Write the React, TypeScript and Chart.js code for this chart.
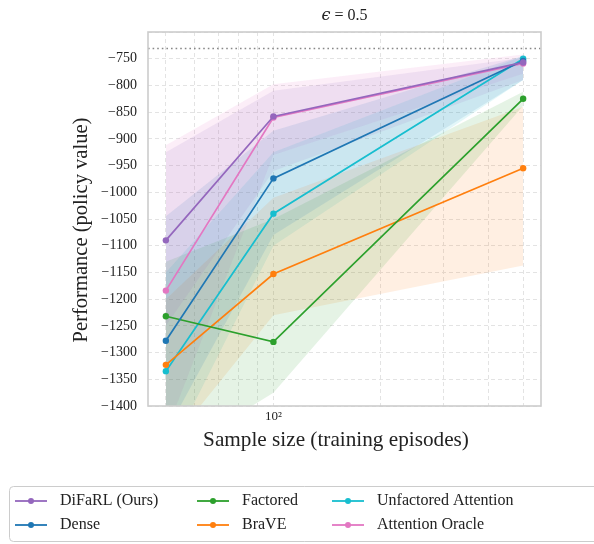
import React, { useEffect, useRef } from "react";
import { Chart, registerables } from "chart.js";

Chart.register(...registerables);

const sampleSizes = [50, 100, 500];
const xTickValues = [50, 60, 70, 80, 90, 100, 200, 300, 400, 500];
const yTickMin = -1400;
const yTickMax = -700;
const referenceValue = -731;

const seriesNames = ["DiFaRL (Ours)", "Dense", "Factored", "BraVE", "Unfactored Attention", "Attention Oracle"];
const seriesColors = ["#9467bd", "#1f77b4", "#2ca02c", "#ff7f0e", "#17becf", "#e377c2"];

const difarl = [-1090, -858, -757];
const dense = [-1278, -974, -754];
const factored = [-1232, -1280, -825];
const brave = [-1323, -1153, -955];
const unfactored = [-1335, -1040, -750];
const oracle = [-1184, -860, -759];

const difarlLo = [-1250, -960, -790];
const difarlHi = [-925, -810, -748];
const denseLo = [-1450, -1080, -790];
const denseHi = [-1045, -885, -745];
const factoredLo = [-1500, -1375, -838];
const factoredHi = [-1130, -1050, -812];
const braveLo = [-1480, -1230, -1137];
const braveHi = [-1200, -1010, -840];
const unfactoredLo = [-1500, -1100, -790];
const unfactoredHi = [-1150, -925, -745];
const oracleLo = [-1450, -930, -778];
const oracleHi = [-912, -798, -742];

const seriesValues = [difarl, dense, factored, brave, unfactored, oracle];
const seriesLo = [difarlLo, denseLo, factoredLo, braveLo, unfactoredLo, oracleLo];
const seriesHi = [difarlHi, denseHi, factoredHi, braveHi, unfactoredHi, oracleHi];

const FONT = "'Liberation Serif', 'DejaVu Serif', serif";

function hexA(hex: string, a: number) {
  const r = parseInt(hex.slice(1, 3), 16);
  const g = parseInt(hex.slice(3, 5), 16);
  const b = parseInt(hex.slice(5, 7), 16);
  return `rgba(${r},${g},${b},${a})`;
}

const pts = (vals: number[]) => vals.map((v, i) => ({ x: sampleSizes[i], y: v }));

const X_MIN = 50 / Math.pow(10, 0.05);
const X_MAX = 500 * Math.pow(10, 0.05);

export default function App() {
  const ref = useRef<HTMLCanvasElement | null>(null);

  useEffect(() => {
    document.body.style.margin = "0";
    const canvas = ref.current!;
    const datasets: any[] = [];

    seriesNames.forEach((name, i) => {
      datasets.push({
        label: name + " lo",
        data: pts(seriesLo[i]),
        borderWidth: 0,
        pointRadius: 0,
        fill: false,
        order: 20,
        borderColor: "rgba(0,0,0,0)",
      });
      datasets.push({
        label: name + " hi",
        data: pts(seriesHi[i]),
        borderWidth: 0,
        pointRadius: 0,
        fill: "-1",
        backgroundColor: hexA(seriesColors[i], 0.12),
        order: 20,
        borderColor: "rgba(0,0,0,0)",
      });
    });

    datasets.push({
      label: "ref",
      data: [
        { x: X_MIN, y: referenceValue },
        { x: X_MAX, y: referenceValue },
      ],
      borderColor: "#888888",
      borderWidth: 1.6,
      borderDash: [1.6, 3],
      pointRadius: 0,
      fill: false,
      order: 5,
    });

    seriesNames.forEach((name, i) => {
      datasets.push({
        label: name,
        data: pts(seriesValues[i]),
        borderColor: seriesColors[i],
        backgroundColor: seriesColors[i],
        borderWidth: 1.7,
        pointRadius: 3.2,
        pointBorderWidth: 0,
        fill: false,
        order: i === 0 ? 0 : 1,
      });
    });

    const decor = {
      id: "decor",
      afterDraw(chart: any) {
        const ctx = chart.ctx as CanvasRenderingContext2D;
        const a = chart.chartArea;
        ctx.save();
        ctx.strokeStyle = "#cccccc";
        ctx.lineWidth = 1.6;
        ctx.strokeRect(a.left, a.top, a.right - a.left, a.bottom - a.top);

        ctx.fillStyle = "#222222";
        ctx.textBaseline = "middle";
        ctx.font = `italic 16px 'DejaVu Serif', serif`;
        const epsW = ctx.measureText("ϵ").width;
        ctx.font = `16px ${FONT}`;
        const restW = ctx.measureText(" = 0.5").width;
        const cx = (a.left + a.right) / 2;
        const startX = cx - (epsW + restW) / 2;
        ctx.textAlign = "left";
        ctx.font = `italic 16px 'DejaVu Serif', serif`;
        ctx.fillText("ϵ", startX, 16);
        ctx.font = `16px ${FONT}`;
        ctx.fillText(" = 0.5", startX + epsW, 16);

        ctx.textAlign = "center";
        ctx.font = `20px ${FONT}`;
        let t = "Sample size (training episodes)";
        let w = ctx.measureText(t).width;
        let fs = 20 * (266 / w);
        ctx.font = `${fs}px ${FONT}`;
        ctx.fillText(t, 336, 440);

        ctx.font = `20px ${FONT}`;
        t = "Performance (policy value)";
        w = ctx.measureText(t).width;
        fs = 20 * (225 / w);
        ctx.font = `${fs}px ${FONT}`;
        ctx.translate(82, 230);
        ctx.rotate(-Math.PI / 2);
        ctx.fillText(t, 0, 0);
        ctx.restore();

        ctx.save();
        ctx.fillStyle = "#ffffff";
        ctx.strokeStyle = "#cccccc";
        ctx.lineWidth = 1;
        ctx.beginPath();
        (ctx as any).roundRect(9.5, 486.5, 620, 55, 4);
        ctx.fill();
        ctx.stroke();
        const colX = [15, 197, 332];
        const rowY = [501, 525];
        ctx.font = `16px ${FONT}`;
        ctx.textBaseline = "middle";
        ctx.textAlign = "left";
        seriesNames.forEach((name, i) => {
          const col = Math.floor(i / 2);
          const row = i % 2;
          const x0 = colX[col];
          const y0 = rowY[row];
          ctx.strokeStyle = seriesColors[i];
          ctx.lineWidth = 1.8;
          ctx.beginPath();
          ctx.moveTo(x0, y0);
          ctx.lineTo(x0 + 32, y0);
          ctx.stroke();
          ctx.fillStyle = seriesColors[i];
          ctx.beginPath();
          ctx.arc(x0 + 16, y0, 3, 0, Math.PI * 2);
          ctx.fill();
          ctx.fillStyle = "#222222";
          ctx.fillText(name, x0 + 45, y0);
        });
        ctx.restore();
      },
    };

    const chart = new Chart(canvas, {
      type: "line",
      data: { datasets },
      options: {
        animation: false,
        responsive: false,
        maintainAspectRatio: false,
        layout: { padding: { top: 32, right: 53, left: 0, bottom: 0 } },
        plugins: {
          legend: { display: false },
          title: { display: false },
          tooltip: { enabled: false },
          filler: { propagate: false },
        },
        scales: {
          x: {
            type: "logarithmic",
            min: X_MIN,
            max: X_MAX,
            afterBuildTicks: (scale: any) => {
              scale.ticks = xTickValues.map((v) => ({ value: v }));
            },
            afterFit: (scale: any) => {
              scale.height = 138;
            },
            ticks: {
              autoSkip: false,
              maxRotation: 0,
              padding: 3,
              color: "#222222",
              font: { family: FONT, size: 13 },
              callback: (v: any) => (Number(v) === 100 ? "10²" : ""),
            },
            grid: { color: "#e3e3e3", lineWidth: 1, drawTicks: false },
            border: { display: false, dash: [4, 3] },
          },
          y: {
            type: "linear",
            min: yTickMin,
            max: yTickMax,
            afterFit: (scale: any) => {
              scale.width = 148;
            },
            ticks: {
              stepSize: 50,
              padding: 11,
              color: "#222222",
              font: { family: FONT, size: 14 },
              callback: (v: any) => (Number(v) === yTickMax ? "" : String(v).replace("-", "\u2212")),
            },
            grid: { color: "#e3e3e3", lineWidth: 1, drawTicks: false },
            border: { display: false, dash: [4, 3] },
          },
        },
      },
      plugins: [decor],
    });

    return () => chart.destroy();
  }, []);

  return <canvas ref={ref} width={594} height={544} style={{ display: "block" }} />;
}
